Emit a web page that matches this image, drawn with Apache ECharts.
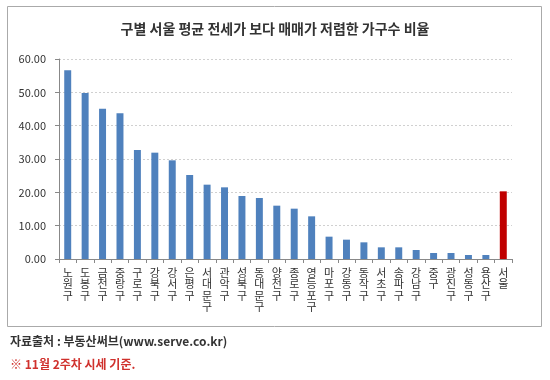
<!DOCTYPE html>
<html><head><meta charset="utf-8">
<script src="https://cdn.jsdelivr.net/npm/echarts@6/dist/echarts.min.js"></script>
<style>html,body{margin:0;padding:0;background:#fff}#c{width:550px;height:380px}</style>
</head><body><div id="c"></div>
<script>
var titleText = '구별 서울 평균 전세가 보다 매매가 저렴한 가구수 비율';
var categories = ['노원구','도봉구','금천구','중랑구','구로구','강북구','강서구','은평구','서대문구','관악구','성북구','동대문구','양천구','종로구','영등포구','마포구','강동구','동작구','서초구','송파구','강남구','중구','광진구','성동구','용산구','서울'];
var values = [56.6,49.8,45.1,43.7,32.7,31.9,29.6,25.2,22.3,21.5,18.9,18.3,16.0,15.1,12.8,6.7,5.8,5.0,3.5,3.5,2.7,1.8,1.8,1.2,1.2,20.3];
var highlight = '서울';
var sourceText = '자료출처 : 부동산써브(www.serve.co.kr)';
var noteText = '※ 11월 2주차 시세 기준.';
var font = '"Noto Sans CJK KR", "Noto Sans", sans-serif';

var chart = echarts.init(document.getElementById('c'));
chart.setOption({
  animation: false,
  textStyle: {fontFamily: font},
  title: {
    text: titleText, left: 'center', top: 17,
    textStyle: {fontSize: 14, fontWeight: 'bold', color: '#333', fontFamily: font}
  },
  grid: {left: 59, right: 38, top: 59, bottom: 121, containLabel: false},
  xAxis: {
    type: 'category', data: categories,
    axisLine: {lineStyle: {color: '#888'}},
    axisTick: {show: true, length: 4, lineStyle: {color: '#888'}},
    axisLabel: {
      interval: 0, margin: 8, fontSize: 11, lineHeight: 11.5, color: '#333',
      verticalAlign: 'top',
      formatter: function (v) { return v.split('').join('\n'); }
    }
  },
  yAxis: {
    type: 'value', min: 0, max: 60, interval: 10,
    axisLine: {show: true, lineStyle: {color: '#888'}},
    axisTick: {show: true, length: 4, lineStyle: {color: '#888'}},
    axisLabel: {fontSize: 11, color: '#333', margin: 13,
      formatter: function (v) { return v.toFixed(2); }},
    splitLine: {lineStyle: {color: '#d0d0d0', type: [2, 2]}}
  },
  series: [{
    type: 'bar', barWidth: '40%',
    data: values.map(function (v, i) {
      return {value: v, itemStyle: {color: categories[i] === highlight ? '#c00000' : '#4f81bd'}};
    })
  }],
  graphic: [
    {type: 'rect', shape: {x: 7.5, y: 6.5, width: 534, height: 320},
     style: {fill: 'none', stroke: '#aaa', lineWidth: 1}, z: -1},
    {type: 'text', left: 10, top: 335,
     style: {text: sourceText, fill: '#333', font: 'bold 12px ' + font}},
    {type: 'text', left: 10, top: 358,
     style: {text: noteText, fill: '#d0312d', font: 'bold 12px ' + font}}
  ]
});
</script></body></html>
